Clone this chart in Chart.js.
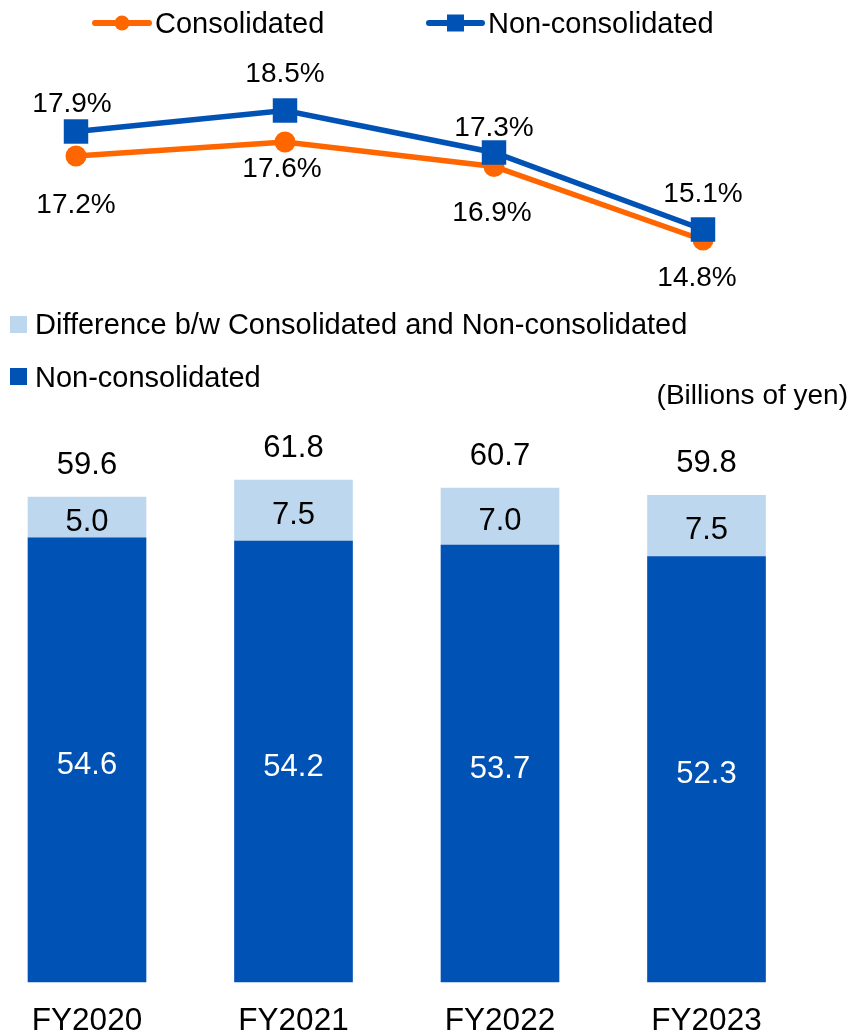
<!DOCTYPE html>
<html>
<head>
<meta charset="utf-8">
<script src="https://cdn.jsdelivr.net/npm/chart.js@4.4.1/dist/chart.umd.min.js"></script>
<style>
  body { margin: 0; background: #fff; }
  .wrap { position: relative; width: 853px; height: 1034px; }
  canvas { position: absolute; left: 0; top: 0; }
</style>
</head>
<body>
<div class="wrap">
  <canvas id="ratio" width="853" height="1034"></canvas>
  <canvas id="amount" width="853" height="1034"></canvas>
</div>
<script>
const years = ['FY2020', 'FY2021', 'FY2022', 'FY2023'];
const ratioConsolidated = [17.2, 17.6, 16.9, 14.8];
const ratioNonConsolidated = [17.9, 18.5, 17.3, 15.1];
const amountNonConsolidated = [54.6, 54.2, 53.7, 52.3];
const amountDifference = [5.0, 7.5, 7.0, 7.5];
const amountTotal = [59.6, 61.8, 60.7, 59.8];

const ORANGE = '#FF6600';
const BLUE = '#0052B4';
const LIGHT = '#BDD7EE';
const FONT = '"Liberation Sans", Arial, sans-serif';

// text vertically centred on the cap height
function text(ctx, str, x, yc, size, color, align) {
    ctx.save();
    ctx.font = size + 'px ' + FONT;
    ctx.fillStyle = color;
    ctx.textAlign = align || 'center';
    ctx.textBaseline = 'alphabetic';
    ctx.fillText(str, x, yc + 0.358 * size);
    ctx.restore();
}

const ratioDecor = {
    id: 'ratioDecor',
    afterDatasetsDraw(chart) {
        const ctx = chart.ctx;
        chart.data.datasets.forEach((ds, i) => {
            chart.getDatasetMeta(i).data.forEach((pt, j) => {
                const off = ds.labelOffsets[j];
                text(ctx, ds.data[j].toFixed(1) + '%', pt.x + off[0], pt.y + off[1], 28, '#000');
            });
        });

        // legend
        ctx.save();
        ctx.lineWidth = 6;
        ctx.lineCap = 'round';
        ctx.strokeStyle = ORANGE;
        ctx.beginPath(); ctx.moveTo(95, 23); ctx.lineTo(149, 23); ctx.stroke();
        ctx.fillStyle = ORANGE;
        ctx.beginPath(); ctx.arc(122, 23, 7.5, 0, Math.PI * 2); ctx.fill();
        ctx.strokeStyle = BLUE;
        ctx.beginPath(); ctx.moveTo(429, 23); ctx.lineTo(482, 23); ctx.stroke();
        ctx.fillStyle = BLUE;
        ctx.fillRect(447, 14.5, 17, 17);
        ctx.restore();
        text(ctx, 'Consolidated', 155, 23, 29, '#000', 'left');
        text(ctx, 'Non-consolidated', 488, 23, 29, '#000', 'left');
    }
};

new Chart(document.getElementById('ratio'), {
    type: 'line',
    data: {
        labels: years,
        datasets: [
            {
                label: 'Non-consolidated',
                data: ratioNonConsolidated,
                borderColor: BLUE,
                backgroundColor: BLUE,
                borderWidth: 5.5,
                pointStyle: 'rect',
                pointRadius: 17.3,
                pointBorderWidth: 0,
                clip: false,
                labelOffsets: [[-4, -29.5], [0, -38.7], [0, -26.7], [0, -38]]
            },
            {
                label: 'Consolidated',
                data: ratioConsolidated,
                borderColor: ORANGE,
                backgroundColor: ORANGE,
                borderWidth: 5.5,
                pointStyle: 'circle',
                pointRadius: 10.5,
                pointBorderWidth: 0,
                clip: false,
                labelOffsets: [[0, 47], [-3, 25], [-2, 44], [-6, 36]]
            }
        ]
    },
    options: {
        responsive: false,
        animation: false,
        events: [],
        layout: { padding: { left: 76, right: 150, top: 58, bottom: 766 } },
        scales: {
            x: { display: false, offset: false },
            y: { display: false, min: 14, max: 20 }
        },
        plugins: { legend: { display: false }, tooltip: { enabled: false } }
    },
    plugins: [ratioDecor]
});

const amountDecor = {
    id: 'amountDecor',
    afterDatasetsDraw(chart) {
        const ctx = chart.ctx;
        const dark = chart.getDatasetMeta(0).data;
        const light = chart.getDatasetMeta(1).data;
        dark.forEach((bar, i) => {
            text(ctx, amountNonConsolidated[i].toFixed(1), bar.x, (bar.y + bar.base) / 2 + 3, 31, '#fff');
        });
        light.forEach((bar, i) => {
            text(ctx, amountDifference[i].toFixed(1), bar.x, (bar.y + bar.base) / 2 + 2, 31, '#000');
            text(ctx, amountTotal[i].toFixed(1), bar.x, bar.y - 34.5, 31, '#000');
            text(ctx, years[i], bar.x, 1019, 31.5, '#000');
        });

        // legend
        ctx.save();
        ctx.fillStyle = LIGHT;
        ctx.fillRect(10, 316, 17, 17);
        ctx.fillStyle = BLUE;
        ctx.fillRect(10, 368, 17, 17);
        ctx.restore();
        text(ctx, 'Difference b/w Consolidated and Non-consolidated', 35, 324, 29, '#000', 'left');
        text(ctx, 'Non-consolidated', 35, 376.5, 29, '#000', 'left');
        text(ctx, '(Billions of yen)', 848, 394, 28, '#000', 'right');
    }
};

new Chart(document.getElementById('amount'), {
    type: 'bar',
    data: {
        labels: years,
        datasets: [
            {
                label: 'Non-consolidated',
                data: amountNonConsolidated,
                backgroundColor: BLUE,
                barThickness: 118,
                clip: false
            },
            {
                label: 'Difference b/w Consolidated and Non-consolidated',
                data: amountDifference,
                backgroundColor: LIGHT,
                barThickness: 118,
                clip: false
            }
        ]
    },
    options: {
        responsive: false,
        animation: false,
        events: [],
        layout: { padding: { left: 87, right: 146.5, top: 410, bottom: 52 } },
        scales: {
            x: { display: false, stacked: true, offset: false },
            y: { display: false, stacked: true, min: 0, max: 70.3 }
        },
        plugins: { legend: { display: false }, tooltip: { enabled: false } }
    },
    plugins: [amountDecor]
});
</script>
</body>
</html>
